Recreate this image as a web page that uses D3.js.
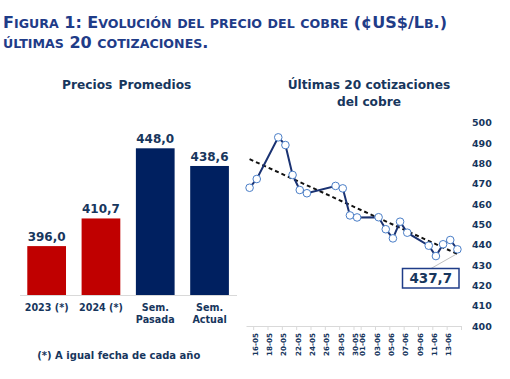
<!DOCTYPE html>
<html><head><meta charset="utf-8">
<script src="https://cdn.jsdelivr.net/npm/d3@7"></script>
<style>
body{margin:0;background:#fff}
svg{display:block}
text{font-family:"DejaVu Sans",Verdana,sans-serif;font-weight:bold}
</style>
</head><body>
<svg id="c" width="510" height="379"></svg>
<script>
// ---------- data ----------
const titleLines = ["Figura 1: Evolución del precio del cobre (¢US$/Lb.)", "últimas 20 cotizaciones."];
const barTitle = "Precios Promedios";
const barCategories = [["2023 (*)"], ["2024 (*)"], ["Sem.", "Pasada"], ["Sem.", "Actual"]];
const barValues = [396.0, 410.7, 448.0, 438.6];
const barColors = ["#C00000", "#C00000", "#002060", "#002060"];
const footnote = "(*) A igual fecha de cada año";

const lineTitle = ["Últimas 20 cotizaciones", "del cobre"];
const quoteDates = ["2024-05-16","2024-05-17","2024-05-20","2024-05-21","2024-05-22","2024-05-23","2024-05-24",
  "2024-05-28","2024-05-29","2024-05-30","2024-05-31","2024-06-03","2024-06-04","2024-06-05","2024-06-06",
  "2024-06-07","2024-06-10","2024-06-11","2024-06-12","2024-06-13","2024-06-14"];
const quoteValues = [468.0, 472.3, 492.8, 489.0, 474.3, 466.9, 465.3, 468.9, 467.7, 454.4, 453.4,
  453.5, 447.6, 443.1, 451.3, 445.9, 439.5, 434.4, 440.2, 442.3, 437.7];
const yTicks = [400, 410, 420, 430, 440, 450, 460, 470, 480, 490, 500];
const xTickLabels = ["16-05","18-05","20-05","22-05","24-05","26-05","28-05","30-05","01-06","03-06","05-06","07-06","09-06","11-06","13-06"];
const xDomain = ["2024-05-16", "2024-06-15"];

const navy = "#17365D";
const fmt = v => d3.format(".1f")(v).replace(".", ",");
const parse = d3.utcParse("%Y-%m-%d");

const svg = d3.select("#c");

// ---------- title (small caps) ----------
function smallCaps(sel, str, big, small) {
  for (const ch of str) {
    const isLower = ch !== ch.toUpperCase();
    sel.append("tspan").attr("font-size", isLower ? small : big).text(ch.toUpperCase());
  }
}
titleLines.forEach((t, i) => {
  const tx = svg.append("text").attr("x", 3).attr("y", 27.5 + i * 20.3).attr("fill", "#1F3C88");
  smallCaps(tx, t, 16, 12.6);
});

// ---------- left bar chart ----------
const xb = d3.scaleBand().domain(d3.range(barValues.length)).range([19.5, 236.7]).paddingInner(0.287).paddingOuter(0.1435);
const yb = d3.scaleLinear().domain([370, 448]).range([295, 148.3]);

svg.append("text").attr("x", 126.7).attr("y", 89.4).attr("text-anchor", "middle")
  .attr("font-size", 12.2).attr("fill", navy).attr("word-spacing", 2).text(barTitle);

svg.append("g").selectAll("rect").data(barValues).join("rect")
  .attr("x", (d, i) => xb(i)).attr("width", xb.bandwidth())
  .attr("y", d => yb(d)).attr("height", d => yb(370) - yb(d))
  .attr("fill", (d, i) => barColors[i]);

svg.append("line").attr("x1", 20).attr("x2", 237).attr("y1", 295.5).attr("y2", 295.5)
  .attr("stroke", "#D9D9D9").attr("stroke-width", 1);

svg.append("g").selectAll("text").data(barValues).join("text")
  .attr("x", (d, i) => xb(i) + xb.bandwidth() / 2).attr("y", d => yb(d) - 5)
  .attr("text-anchor", "middle").attr("font-size", 12).attr("fill", navy).text(d => fmt(d));

barCategories.forEach((lines, i) => {
  lines.forEach((l, j) => {
    svg.append("text").attr("x", xb(i) + xb.bandwidth() / 2).attr("y", 311.3 + j * 11.3)
      .attr("text-anchor", "middle").attr("font-size", 9.6).attr("fill", navy).text(l);
  });
});

svg.append("text").attr("x", 118.8).attr("y", 359.3).attr("text-anchor", "middle")
  .attr("font-size", 10).attr("fill", navy).text(footnote);

// ---------- right line chart ----------
const xl = d3.scaleUtc().domain(xDomain.map(parse)).range([246, 461]);
const yl = d3.scaleLinear().domain([400, 500]).range([326, 122.7]);
const halfDay = 12 * 3600 * 1000;
const pts = quoteDates.map((d, i) => ({ date: parse(d), v: quoteValues[i] }));
const px = d => xl(new Date(+d.date + halfDay));

lineTitle.forEach((t, i) => {
  svg.append("text").attr("x", 369).attr("y", 89.4 + i * 16.5).attr("text-anchor", "middle")
    .attr("font-size", 12.2).attr("fill", navy).text(t);
});

// y axis (right, no line)
const yAxis = d3.axisRight(yl).tickValues(yTicks).tickSize(0).tickPadding(0).tickFormat(d3.format("d"));
const gy = svg.append("g").attr("transform", "translate(472,0)").call(yAxis);
gy.select(".domain").remove();
gy.selectAll("text").attr("font-size", 9.5).attr("fill", navy).attr("font-family", null);

// x axis
const tickDates = d3.utcDay.every(2).range(parse(xDomain[0]), new Date(+parse(xDomain[1]) + 1));
const xAxis = d3.axisBottom(xl).tickValues(tickDates).tickSize(4).tickSizeOuter(0)
  .tickFormat((d, i) => xTickLabels[i] || "");
const gx = svg.append("g").attr("transform", "translate(0,326)").call(xAxis);
gx.select(".domain").attr("stroke", "#D9D9D9");
gx.selectAll(".tick line").attr("stroke", "#D9D9D9");
gx.selectAll(".tick text")
  .attr("transform", "rotate(-90)").attr("text-anchor", "end")
  .attr("x", -7).attr("y", 1.5).attr("dy", "0.35em")
  .attr("font-size", 7.2).attr("fill", navy).attr("font-family", null);

// trend line (least squares over dates)
const xs = pts.map(p => +p.date / 864e5), ys = pts.map(p => p.v);
const mx = d3.mean(xs), my = d3.mean(ys);
const slope = d3.sum(xs.map((x, i) => (x - mx) * (ys[i] - my))) / d3.sum(xs.map(x => (x - mx) ** 2));
const trend = x => my + slope * (x - mx);
const first = pts[0], last = pts[pts.length - 1];
svg.append("line")
  .attr("x1", px(first)).attr("y1", yl(trend(+first.date / 864e5)))
  .attr("x2", px(last)).attr("y2", yl(trend(+last.date / 864e5)))
  .attr("stroke", "#111").attr("stroke-width", 2).attr("stroke-dasharray", "4,3");

svg.append("path").datum(pts)
  .attr("d", d3.line().x(px).y(d => yl(d.v)))
  .attr("fill", "none").attr("stroke", "#1A3272").attr("stroke-width", 2);

svg.append("g").selectAll("circle").data(pts).join("circle")
  .attr("cx", px).attr("cy", d => yl(d.v)).attr("r", 3.8)
  .attr("fill", "#fff").attr("stroke", "#4A7EC7").attr("stroke-width", 1);

// callout
const bx = 402.5, by = 268.5, bw = 56.5, bh = 19.5;
svg.append("line").attr("x1", bx + 28.5).attr("y1", by).attr("x2", px(last) - 1.5).attr("y2", yl(last.v) + 5)
  .attr("stroke", "#BFBFBF").attr("stroke-width", 1);
svg.append("rect").attr("x", bx).attr("y", by).attr("width", bw).attr("height", bh)
  .attr("fill", "#fff").attr("stroke", "#1F3C88").attr("stroke-width", 1.5);
svg.append("text").attr("x", bx + bw / 2).attr("y", by + bh / 2 + 5)
  .attr("text-anchor", "middle").attr("font-size", 13.5).attr("fill", navy).text(fmt(last.v));
</script>
</body></html>
